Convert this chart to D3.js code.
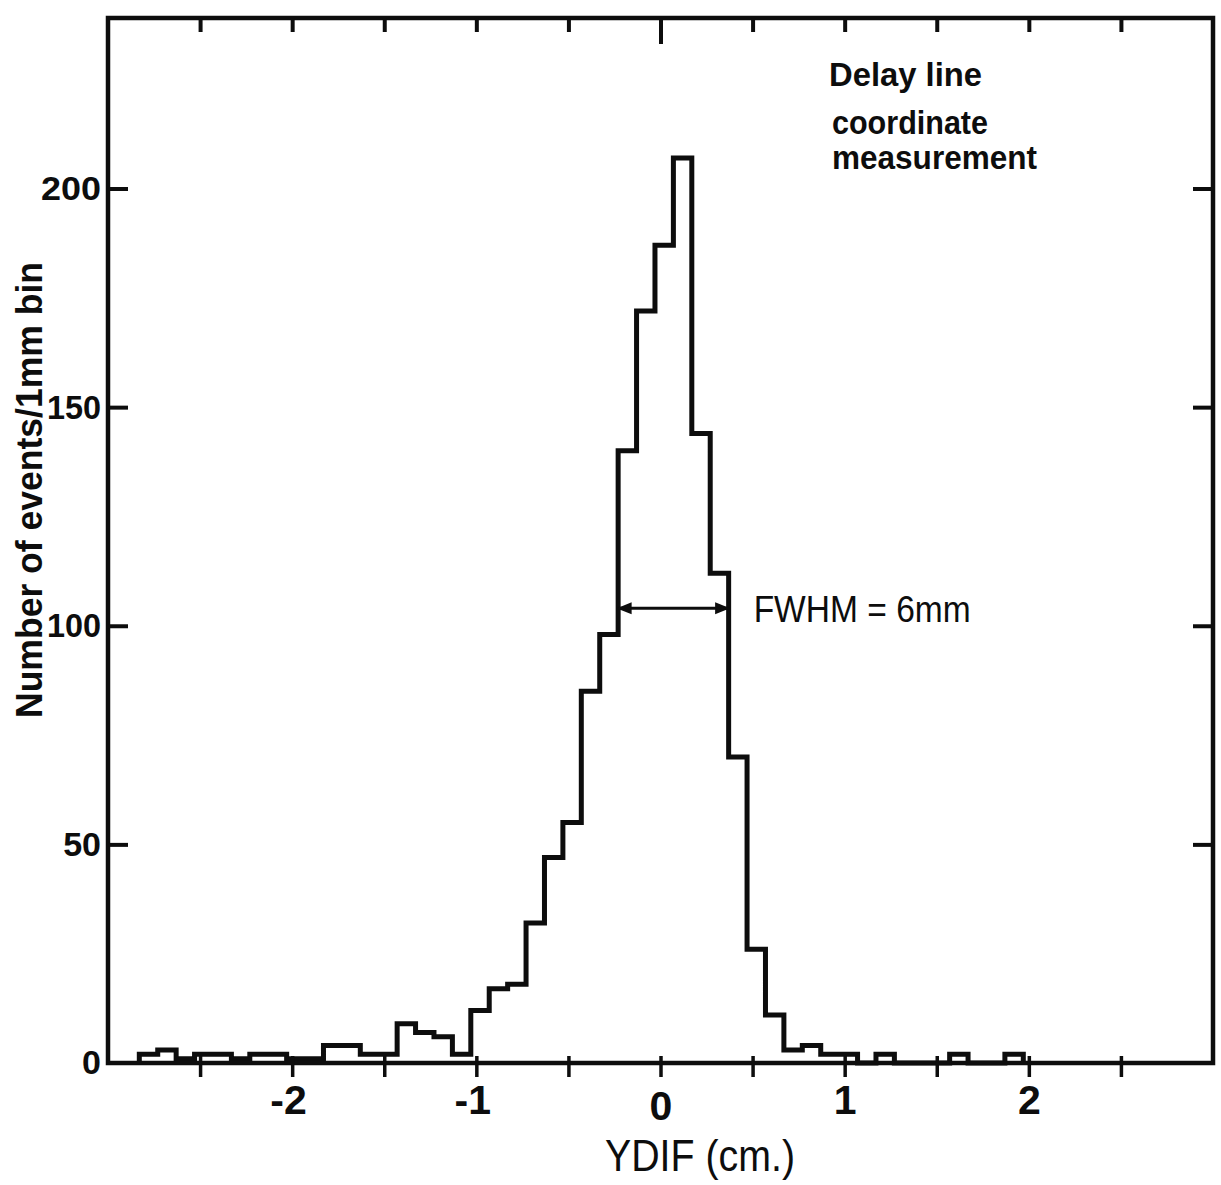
<!DOCTYPE html>
<html><head><meta charset="utf-8">
<script src="https://cdn.jsdelivr.net/npm/d3@7"></script>
<style>html,body{margin:0;padding:0;background:#fff}</style>
</head><body>
<svg id="chart" width="1221" height="1185"></svg>
<script>
// YDIF histogram, 1 mm bins
const binStart = -2.83;   // lower edge of the first bin (cm)
const binWidth = 0.1;     // 1 mm
const counts = [2,3,1,2,2,1,2,2,1,1, 4,4,2,2,9,7,6,2,12,17,
                18,32,47,55,85,98,140,172,187,207, 144,112,70,26,11,3,4,2,2,0,
                2,0,0,0,2,0,0,2];
const xLabelTicks = [-2,-1,0,1,2];
const xTickMarks = [-2.5,-2,-1.5,-1,-0.5,0,0.5,1,1.5,2,2.5];
const yLabelTicks = [0,50,100,150,200];
const yTickMarks = [50,100,150,200];
const fwhm = {from: -0.23, to: 0.37, level: 104, label: "FWHM = 6mm"};
const noteLines = ["Delay line", "coordinate", "measurement"];
const xTitle = "YDIF (cm.)";
const yTitle = "Number of events/1mm bin";

(function draw() {
  const svg = d3.select("#chart");
  const ink = "#0d0d0d";
  const sans = "'Liberation Sans', Arial, sans-serif";
  const x = d3.scaleLinear([-3, 3], [108, 1213]);
  const y = d3.scaleLinear([0, 239], [1063, 18]);

  // histogram outline as a stepped path
  const pts = [{e: binStart, v: 0}];
  counts.forEach((c, i) => pts.push({e: binStart + i * binWidth, v: c}));
  pts.push({e: binStart + counts.length * binWidth, v: 0});
  const step = d3.line().x(d => x(d.e)).y(d => y(d.v)).curve(d3.curveStepAfter);
  svg.append("path").attr("d", step(pts))
    .attr("fill", "none").attr("stroke", ink).attr("stroke-width", 5)
    .attr("stroke-linejoin", "miter");

  // frame
  svg.append("rect")
    .attr("x", x(-3)).attr("y", y(239))
    .attr("width", x(3) - x(-3)).attr("height", y(0) - y(239))
    .attr("fill", "none").attr("stroke", ink).attr("stroke-width", 4.5);

  const tickFont = (g, size) => g.selectAll("text")
    .attr("font-family", sans).attr("font-size", size)
    .attr("font-weight", "bold").attr("fill", ink);
  const tickLines = (g, w) => g.selectAll(".tick line").attr("stroke", ink).attr("stroke-width", w);

  // left axis: inward ticks and labels
  const leftAx = svg.append("g").attr("transform", `translate(${x(-3)},0)`)
    .call(d3.axisLeft(y).tickValues(yLabelTicks).tickSizeInner(-20).tickSizeOuter(0).tickPadding(7));
  leftAx.select(".domain").remove();
  tickLines(leftAx, 4);
  leftAx.selectAll(".tick").filter(d => d === 0).select("line").remove();
  tickFont(leftAx, 34);
  leftAx.selectAll(".tick text").filter(d => d >= 100).attr("textLength", d => d === 200 ? 60 : 54)
    .attr("lengthAdjust", "spacingAndGlyphs");

  // right axis ticks
  const rightAx = svg.append("g").attr("transform", `translate(${x(3)},0)`)
    .call(d3.axisLeft(y).tickValues(yTickMarks).tickSize(20).tickFormat(""));
  rightAx.select(".domain").remove();
  tickLines(rightAx, 4);

  // top axis ticks (longer mark at zero)
  const topAx = svg.append("g").attr("transform", `translate(0,${y(239)})`)
    .call(d3.axisBottom(x).tickValues(xTickMarks).tickSize(14).tickFormat(""));
  topAx.select(".domain").remove();
  tickLines(topAx, 4);
  topAx.selectAll(".tick").filter(d => d === 0).select("line").attr("y2", 26);

  // bottom axis ticks crossing the baseline
  const bottomAx = svg.append("g").attr("transform", `translate(0,${y(0)})`)
    .call(d3.axisBottom(x).tickValues(xTickMarks).tickSize(14).tickFormat(""));
  bottomAx.select(".domain").remove();
  tickLines(bottomAx, 3.5);
  bottomAx.selectAll(".tick line").attr("y1", -7);

  // bottom labels
  const fmt = d => (d < 0 ? "-" : "") + Math.abs(d);
  const labelAx = svg.append("g").attr("transform", `translate(0,${y(0)})`)
    .call(d3.axisBottom(x).tickValues(xLabelTicks).tickSize(0).tickPadding(22).tickFormat(fmt));
  labelAx.select(".domain").remove();
  tickFont(labelAx, 41);
  labelAx.selectAll(".tick").filter(d => d === 0).select("text").attr("dy", "0.86em");
  labelAx.selectAll(".tick").filter(d => d < 0).select("text").attr("dx", "-0.1em");

  // axis titles
  svg.append("text").text(xTitle)
    .attr("x", 605).attr("y", 1171).attr("textLength", 190).attr("lengthAdjust", "spacingAndGlyphs")
    .attr("font-family", sans).attr("font-size", 44)
    .attr("fill", ink);
  svg.append("text").text(yTitle)
    .attr("transform", "translate(42,718) rotate(-90)")
    .attr("textLength", 456).attr("lengthAdjust", "spacingAndGlyphs")
    .attr("font-family", sans).attr("font-size", 37)
    .attr("font-weight", "bold").attr("fill", ink);

  // FWHM marker
  const defs = svg.append("defs");
  ["start", "end"].forEach(k => {
    defs.append("marker").attr("id", "arr-" + k)
      .attr("viewBox", "0 0 10 10").attr("refX", 9).attr("refY", 5)
      .attr("markerWidth", 5).attr("markerHeight", 5).attr("orient", "auto-start-reverse")
      .attr("markerUnits", "strokeWidth")
      .append("path").attr("d", "M0,1 L10,5 L0,9 Z").attr("fill", ink);
  });
  svg.append("line")
    .attr("x1", x(fwhm.from)).attr("x2", x(fwhm.to))
    .attr("y1", y(fwhm.level)).attr("y2", y(fwhm.level))
    .attr("stroke", ink).attr("stroke-width", 3)
    .attr("marker-start", "url(#arr-start)").attr("marker-end", "url(#arr-end)");
  svg.append("text").text(fwhm.label)
    .attr("x", x(fwhm.to) + 25).attr("y", y(fwhm.level) + 14)
    .attr("textLength", 217).attr("lengthAdjust", "spacingAndGlyphs")
    .attr("font-family", sans).attr("font-size", 36)
    .attr("fill", ink);

  // note in upper right
  const notePos = [[829, 86, 153], [832, 134, 156], [832, 169, 205]];
  noteLines.forEach((t, i) => {
    svg.append("text").text(t)
      .attr("x", notePos[i][0]).attr("y", notePos[i][1])
      .attr("textLength", notePos[i][2]).attr("lengthAdjust", "spacingAndGlyphs")
      .attr("font-family", sans).attr("font-size", 33)
      .attr("font-weight", "bold").attr("fill", ink);
  });
})();
</script>
</body></html>
